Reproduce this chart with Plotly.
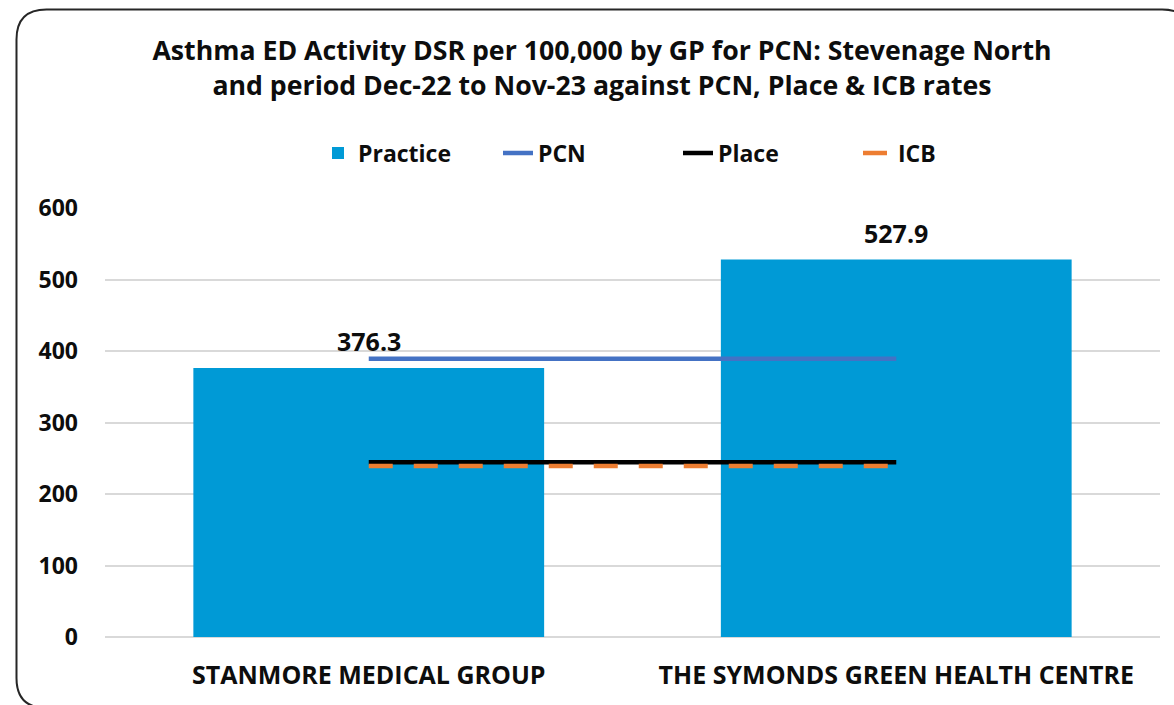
import plotly.graph_objects as go

categories = ["STANMORE MEDICAL GROUP", "THE SYMONDS GREEN HEALTH CENTRE"]
practice = [376.3, 527.9]
pcn = [389.0, 389.0]
place = [244.5, 244.5]
icb = [239.0, 239.0]
y_ticks = [0, 100, 200, 300, 400, 500, 600]

title_text = ("Asthma ED Activity DSR per 100,000 by GP for PCN: Stevenage North<br>"
              "and period Dec-22 to Nov-23 against PCN, Place & ICB rates")

W, H = 1174, 705
ML, MR, MT, MB = 105, 14, 208, 68
PW, PH = W - ML - MR, H - MT - MB

FONT = "Open Sans"
TXT = "#0d0d0d"

fig = go.Figure()
fig.add_trace(go.Bar(x=categories, y=practice, name="Practice",
                     marker=dict(color="#009ad6", line=dict(width=0))))
fig.add_trace(go.Scatter(x=categories, y=pcn, name="PCN", mode="lines",
                         line=dict(color="#4472c4", width=4.5)))
fig.add_trace(go.Scatter(x=categories, y=place, name="Place", mode="lines",
                         line=dict(color="#000000", width=4.5)))
fig.add_trace(go.Scatter(x=categories, y=icb, name="ICB", mode="lines",
                         line=dict(color="#ed7d31", width=4.5, dash="24px,21px")))

for c, v in zip(categories, practice):
    fig.add_annotation(x=c, y=v, text=f"{v:.1f}", showarrow=False,
                       yanchor="middle", yshift=27,
                       font=dict(family=FONT, size=25, color=TXT, weight="bold"))

def px2paper(px, py):
    return (px - ML) / PW, (H - MB - py) / PH

def border_path(x0, y0, x1, y1, r):
    def P(x, y):
        a, b = px2paper(x, y)
        return f"{a:.5f},{b:.5f}"
    d = (f"M {P(x0 + r, y0)} L {P(x1 - r, y0)} Q {P(x1, y0)} {P(x1, y0 + r)} "
         f"L {P(x1, y1 - r)} Q {P(x1, y1)} {P(x1 - r, y1)} "
         f"L {P(x0 + r, y1)} Q {P(x0, y1)} {P(x0, y1 - r)} "
         f"L {P(x0, y0 + r)} Q {P(x0, y0)} {P(x0 + r, y0)} Z")
    return d

fig.add_shape(type="path", xref="paper", yref="paper",
              path=border_path(16.5, 9.5, 1192, 708, 30),
              line=dict(color="#262626", width=2), layer="above")

lx, ly = px2paper(678, 153)
fig.update_layout(
    width=W, height=H,
    margin=dict(l=ML, r=MR, t=MT, b=MB),
    paper_bgcolor="white", plot_bgcolor="white",
    bargap=0.335,
    title=dict(text=title_text, x=602 / W, xanchor="center",
               y=1 - 60 / H, yanchor="middle",
               font=dict(family=FONT, size=26.7, color=TXT, weight="bold")),
    legend=dict(orientation="h", x=lx, xanchor="center", y=ly, yanchor="middle",
                font=dict(family=FONT, size=23, color=TXT, weight="bold"),
                entrywidth=135, entrywidthmode="pixels",
                tracegroupgap=0, bgcolor="rgba(0,0,0,0)"),
    xaxis=dict(showgrid=False, showline=False, ticks="", ticklabelstandoff=21,
               tickfont=dict(family=FONT, size=25, color=TXT, weight="bold")),
    yaxis=dict(range=[0, 600], tickvals=y_ticks, showgrid=True,
               gridcolor="#d9d9d9", gridwidth=1.5, zeroline=True,
               zerolinecolor="#d9d9d9", zerolinewidth=1.5, showline=False,
               ticks="", ticklabelstandoff=26,
               tickfont=dict(family=FONT, size=23, color=TXT, weight="bold")),
    showlegend=True,
)

fig.write_html("out.html", config={"displayModeBar": False},
               post_script="document.body.style.margin='0';")
